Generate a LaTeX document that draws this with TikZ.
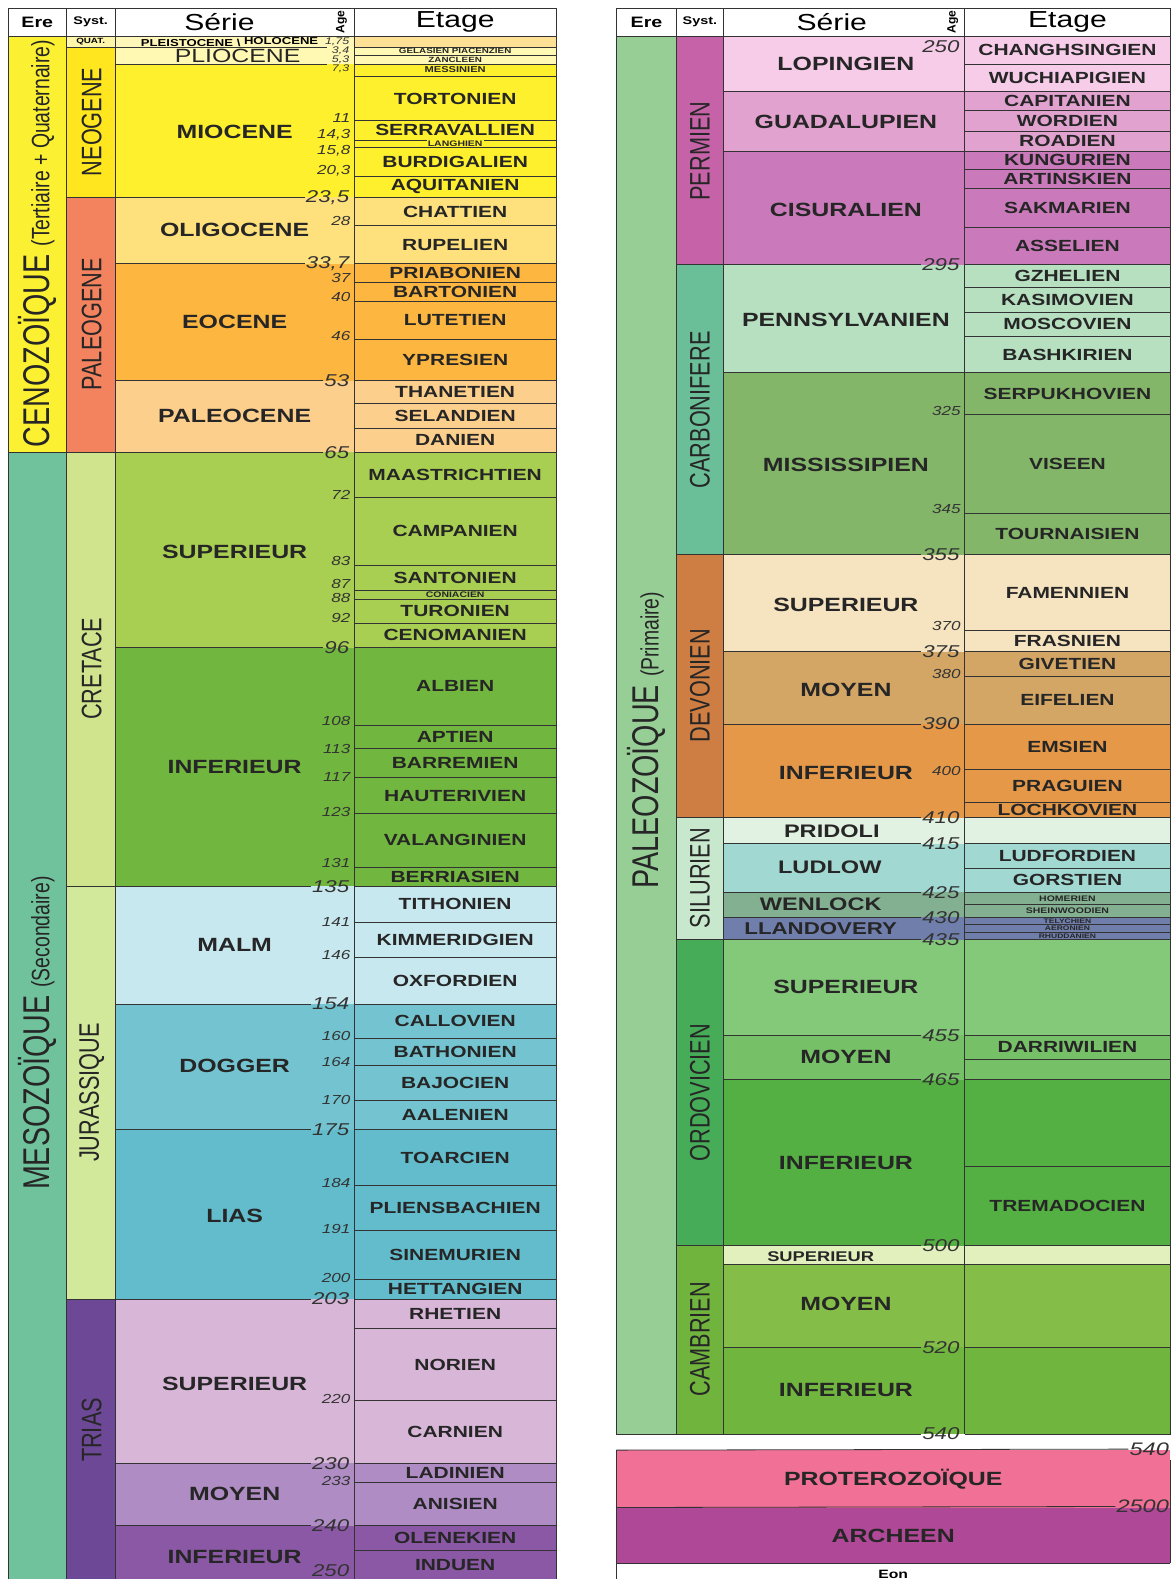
\documentclass[tikz,border=0pt]{standalone}
\usepackage{fontspec}
\setmainfont{Liberation Sans}
\newfontfamily\widesf{Liberation Sans}[FakeStretch=1.3]
\newfontfamily\tallsf{Liberation Sans}[FakeStretch=0.77]
% Ere / systemes
\definecolor{cenoz}{RGB}{252,240,50}
\definecolor{mesoz}{RGB}{112,194,156}
\definecolor{paleoz}{RGB}{150,206,150}
\definecolor{quatsys}{RGB}{255,246,170}
\definecolor{neog}{RGB}{255,230,30}
\definecolor{paleog}{RGB}{243,130,95}
\definecolor{cret}{RGB}{207,228,140}
\definecolor{jura}{RGB}{210,232,155}
\definecolor{trias}{RGB}{108,72,150}
\definecolor{perm}{RGB}{198,98,168}
\definecolor{carb}{RGB}{106,190,152}
\definecolor{devo}{RGB}{206,126,66}
\definecolor{silu}{RGB}{200,232,205}
\definecolor{ordo}{RGB}{70,172,88}
\definecolor{camb}{RGB}{112,180,62}
% Series
\definecolor{holo}{RGB}{255,247,185}
\definecolor{quatet}{RGB}{255,225,150}
\definecolor{plio}{RGB}{255,249,180}
\definecolor{mio}{RGB}{255,240,45}
\definecolor{oligo}{RGB}{254,225,125}
\definecolor{eoc}{RGB}{253,183,65}
\definecolor{paleoc}{RGB}{253,207,140}
\definecolor{crsup}{RGB}{168,206,82}
\definecolor{crinf}{RGB}{113,182,62}
\definecolor{malm}{RGB}{200,232,240}
\definecolor{dogg}{RGB}{115,196,208}
\definecolor{lias}{RGB}{98,188,204}
\definecolor{trsup}{RGB}{216,182,216}
\definecolor{trmoy}{RGB}{175,140,196}
\definecolor{trinf}{RGB}{138,88,164}
\definecolor{lop}{RGB}{246,204,232}
\definecolor{guad}{RGB}{226,162,208}
\definecolor{cisu}{RGB}{202,122,186}
\definecolor{penn}{RGB}{182,224,192}
\definecolor{miss}{RGB}{132,182,106}
\definecolor{dvsup}{RGB}{246,227,192}
\definecolor{dvmoy}{RGB}{211,166,102}
\definecolor{dvinf}{RGB}{229,152,72}
\definecolor{prid}{RGB}{226,242,226}
\definecolor{ludl}{RGB}{162,216,210}
\definecolor{wenl}{RGB}{132,176,146}
\definecolor{llan}{RGB}{112,126,172}
\definecolor{orsup}{RGB}{132,200,122}
\definecolor{ormoy}{RGB}{118,192,104}
\definecolor{orinf}{RGB}{84,176,66}
\definecolor{cbsup}{RGB}{226,240,190}
\definecolor{cbmoy}{RGB}{132,190,72}
\definecolor{cbinf}{RGB}{112,182,62}
\definecolor{proter}{RGB}{240,112,150}
\definecolor{arch}{RGB}{176,72,152}

\tikzset{
  rule/.style={draw=black!80, line width=0.8pt},
  head/.style={font=\widesf\fontsize{23}{23}\selectfont},
  etage/.style={font=\widesf\bfseries\fontsize{16}{16}\selectfont, text=black!85, inner sep=0pt},
  etagetiny/.style={font=\widesf\bfseries\fontsize{7.5}{7.5}\selectfont, text=black!85, inner sep=1pt},
  serie/.style={font=\widesf\bfseries\fontsize{19}{19}\selectfont, text=black!85},
  syst/.style={rotate=90, font=\tallsf\fontsize{28}{28}\selectfont, text=black!85},
  ere/.style={rotate=90, text=black!85, inner sep=0pt},
  agebig/.style={font=\widesf\itshape\fontsize{17}{17}\selectfont, anchor=east, inner sep=1pt, text=black!80},
  agesmall/.style={font=\widesf\itshape\fontsize{13}{13}\selectfont, anchor=east, inner sep=0pt, text=black!80},
  agetiny/.style={font=\widesf\itshape\fontsize{9.5}{9.5}\selectfont, anchor=east, inner sep=0pt, text=black!80},
}

\begin{document}
\begin{tikzpicture}[x=1pt,y=-1pt]
\useasboundingbox (0,0) rectangle (1164,1568);
\fill[white] (0,0) rectangle (1164,1568);

% ================= Left table =================
% Eres
\fill[cenoz] (8,36) rectangle (66,449);
\fill[mesoz] (8,449) rectangle (66,1568);
% Systemes
\foreach \ya/\yb/\col in {36/47/quatsys,47/196/neog,196/449/paleog,449/880/cret,880/1290/jura,1290/1568/trias}
  \fill[\col] (66,\ya) rectangle (115,\yb);
% Series and etages
\foreach \ya/\yb/\col in {36/47/holo,47/64/plio,64/196/mio,196/262/oligo,262/378/eoc,378/449/paleoc,
    449/643/crsup,643/880/crinf,880/997/malm,997/1122/dogg,1122/1290/lias,1290/1453/trsup,1453/1515/trmoy,1515/1568/trinf}
  \fill[\col] (115,\ya) rectangle (553,\yb);
\fill[quatet] (352,36) rectangle (553,47);

% Etage boundaries
\foreach \y in {47,55,64,76,120,139,146,175,196,224,262,280,299,337,378,401,425,449,494,561,586,595,619,643,
    720,743,772,808,861,880,916,951,997,1031,1058,1093,1122,1177,1222,1270,1290,1319,1391,1453,1472,1515,1540}
  \draw[rule] (352,\y) -- (553,\y);

% Series boundaries with ages
\foreach \x/\y/\age [count=\i] in {66/196/{23,5},115/262/{33,7},115/378/53,8/449/65,115/643/96,66/880/135,
    115/997/154,115/1122/175,66/1290/203,115/1453/230,115/1515/240}
{
  \node[agebig] (L\i) at (348,\y) {\age};
  \draw[rule] (\x,\y) -- (L\i.west);
}
\node[agebig] at (348,1560) {250};
\draw[rule] (66,47) -- (325,47);
\draw[rule] (115,64) -- (325,64);
\foreach \y/\age in {42/{1,75},50/{3,4},59/{5,3},68/{7,3}}
  \node[agetiny] at (347,\y) {\age};
\foreach \y/\age in {117/11,134/{14,3},150/{15,8},170/{20,3},219/28,276/37,295/40,334/46,491/72,557/83,580/87,
    594/88,614/92,716/108,744/113,772/117,806/123,857/131,916/141,948/146,1029/160,1055/164,1092/170,
    1175/184,1220/191,1269/200,1389/220,1471/233}
  \node[agesmall] at (348,\y) {\age};

% Frame
\draw[rule] (8,8) rectangle (553,1568);
\foreach \x in {66,115,352} \draw[rule] (\x,8) -- (\x,1568);
\draw[rule] (8,36) -- (553,36);

% Header
\node[font=\widesf\bfseries\fontsize{15}{15}\selectfont] at (37,22) {Ere};
\node[font=\widesf\bfseries\fontsize{11}{11}\selectfont] at (90,22) {Syst.};
\node[head] at (218,22) {Série};
\node[rotate=90, font=\bfseries\fontsize{12}{12}\selectfont] at (339,22) {Age};
\node[head] at (452,22) {Etage};

% Eres and systemes
\node[ere] at (37,242) {\tallsf\fontsize{37}{37}\selectfont CENOZOÏQUE {\fontsize{25}{25}\selectfont (Tertiaire + Quaternaire)}};
\node[ere] at (37,1026) {\tallsf\fontsize{37}{37}\selectfont MESOZOÏQUE {\fontsize{25}{25}\selectfont (Secondaire)}};
\node[font=\widesf\bfseries\fontsize{7.5}{7.5}\selectfont, inner sep=0pt] at (90,41.5) {QUAT.};
\foreach \y/\name in {121/NEOGENE,322/PALEOGENE,664/CRETACE,1085/JURASSIQUE,1420/TRIAS}
  \node[syst] at (91,\y) {\name};

% Series
\node[font=\widesf\bfseries\fontsize{10}{10}\selectfont, inner sep=0pt] at (228,42) {PLEISTOCENE \textbackslash\ \raisebox{2pt}{HOLOCENE}};
\node[serie, font=\widesf\fontsize{19}{19}\selectfont] at (236,56) {PLIOCENE};
\foreach \y/\name in {131/MIOCENE,228/OLIGOCENE,320/EOCENE,413/PALEOCENE,548/SUPERIEUR,762/INFERIEUR,938/MALM,
    1058/DOGGER,1207/LIAS,1374/SUPERIEUR,1483/MOYEN,1546/INFERIEUR}
  \node[serie] at (233,\y) {\name};

% Etages
\node[etagetiny, fill=plio] at (452,51) {GELASIEN PIACENZIEN};
\node[etagetiny, fill=plio] at (452,59.5) {ZANCLEEN};
\node[etagetiny, fill=mio, font=\widesf\bfseries\fontsize{8.5}{8.5}\selectfont] at (452,69) {MESSINIEN};
\node[etagetiny, fill=mio, font=\widesf\bfseries\fontsize{8}{8}\selectfont] at (452,142.5) {LANGHIEN};
\node[etagetiny, fill=crsup, font=\widesf\bfseries\fontsize{8}{8}\selectfont] at (452,590.5) {CONIACIEN};
\foreach \ya/\yb/\name in {76/120/TORTONIEN,120/139/SERRAVALLIEN,146/175/BURDIGALIEN,175/196/AQUITANIEN,
    196/224/CHATTIEN,224/262/RUPELIEN,262/280/PRIABONIEN,280/299/BARTONIEN,299/337/LUTETIEN,337/378/YPRESIEN,
    378/401/THANETIEN,401/425/SELANDIEN,425/449/DANIEN,449/494/MAASTRICHTIEN,494/561/CAMPANIEN,561/586/SANTONIEN,
    595/619/TURONIEN,619/643/CENOMANIEN,643/720/ALBIEN,720/743/APTIEN,743/772/BARREMIEN,772/808/HAUTERIVIEN,
    808/861/VALANGINIEN,861/880/BERRIASIEN,880/916/TITHONIEN,916/951/KIMMERIDGIEN,951/997/OXFORDIEN,
    997/1031/CALLOVIEN,1031/1058/BATHONIEN,1058/1093/BAJOCIEN,1093/1122/AALENIEN,1122/1177/TOARCIEN,
    1177/1222/PLIENSBACHIEN,1222/1270/SINEMURIEN,1270/1290/HETTANGIEN,1290/1319/RHETIEN,1319/1391/NORIEN,
    1391/1453/CARNIEN,1453/1472/LADINIEN,1472/1515/ANISIEN,1515/1540/OLENEKIEN,1540/1568/INDUEN}
  \node[etage] at (452,{(\ya+\yb)/2}) {\name};

% ================= Right table =================
\fill[paleoz] (612,36) rectangle (672,1424);
\foreach \ya/\yb/\col in {36/263/perm,263/551/carb,551/812/devo,812/933/silu,933/1237/ordo,1237/1424/camb}
  \fill[\col] (672,\ya) rectangle (718,\yb);
\foreach \ya/\yb/\col in {36/91/lop,91/150/guad,150/263/cisu,263/370/penn,370/551/miss,551/647/dvsup,647/719/dvmoy,
    719/812/dvinf,812/838/prid,838/886/ludl,886/911/wenl,911/933/llan,933/1028/orsup,1028/1072/ormoy,
    1072/1237/orinf,1237/1256/cbsup,1256/1338/cbmoy,1338/1424/cbinf}
  \fill[\col] (718,\ya) rectangle (1162,\yb);

% Etage boundaries
\foreach \y in {64,91,110,130,150,168,187,226,263,285,310,334,370,412,510,551,626,647,672,719,764,797,812,838,
    862,886,898,911,918,926,933,1028,1052,1072,1158,1237,1256,1338}
  \draw[rule] (958,\y) -- (1162,\y);
\foreach \y in {91,150,370,1256}
  \draw[rule] (718,\y) -- (958,\y);

% Series boundaries with ages
\foreach \x/\y/\age [count=\i] in {672/263/295,672/551/355,718/647/375,718/719/390,672/812/410,718/838/415,
    718/886/425,718/911/430,672/933/435,718/1028/455,718/1072/465,672/1237/500,718/1338/520,612/1424/540}
{
  \node[agebig] (R\i) at (954,\y) {\age};
  \draw[rule] (\x,\y) -- (R\i.west);
}
\node[agebig] at (954,46) {250};
\foreach \y/\age in {408/325,505/345,622/370,669/380,766/400}
  \node[agesmall] at (954,\y) {\age};

% Frame
\draw[rule] (958,1424) -- (1162,1424) -- (1162,8) -- (612,8) -- (612,1424);
\foreach \x in {672,718,958} \draw[rule] (\x,8) -- (\x,1424);
\draw[rule] (612,36) -- (1162,36);

% Header
\node[font=\widesf\bfseries\fontsize{15}{15}\selectfont] at (642,22) {Ere};
\node[font=\widesf\bfseries\fontsize{11}{11}\selectfont] at (695,22) {Syst.};
\node[head] at (826,22) {Série};
\node[rotate=90, font=\bfseries\fontsize{12}{12}\selectfont] at (946,22) {Age};
\node[head] at (1060,22) {Etage};

% Ere and systemes
\node[ere] at (642,735) {\tallsf\fontsize{37}{37}\selectfont PALEOZOÏQUE {\fontsize{25}{25}\selectfont (Primaire)}};
\foreach \y/\name in {150/PERMIEN,407/CARBONIFERE,681/DEVONIEN,872/SILURIEN,1085/ORDOVICIEN,1330/CAMBRIEN}
  \node[syst] at (695,\y) {\name};

% Series
\foreach \y/\name in {63/LOPINGIEN,121/GUADALUPIEN,208/CISURALIEN,318/PENNSYLVANIEN,462/MISSISSIPIEN,601/SUPERIEUR,
    685/MOYEN,768/INFERIEUR,980/SUPERIEUR,1050/MOYEN,1155/INFERIEUR,1295/MOYEN,1380/INFERIEUR}
  \node[serie] at (840,\y) {\name};
\node[serie, font=\widesf\bfseries\fontsize{18}{18}\selectfont] at (826,825) {PRIDOLI};
\node[serie, font=\widesf\bfseries\fontsize{18}{18}\selectfont] at (824,861) {LUDLOW};
\node[serie, font=\widesf\bfseries\fontsize{18}{18}\selectfont] at (815,898) {WENLOCK};
\node[serie, font=\widesf\bfseries\fontsize{17}{17}\selectfont] at (815,922) {LLANDOVERY};
\node[serie, font=\widesf\bfseries\fontsize{14}{14}\selectfont, inner sep=0pt] at (815,1248) {SUPERIEUR};

% Etages
\foreach \ya/\yb/\name in {36/64/CHANGHSINGIEN,64/91/WUCHIAPIGIEN,91/110/CAPITANIEN,110/130/WORDIEN,130/150/ROADIEN,
    150/168/KUNGURIEN,168/187/ARTINSKIEN,187/226/SAKMARIEN,226/263/ASSELIEN,263/285/GZHELIEN,285/310/KASIMOVIEN,
    310/334/MOSCOVIEN,334/370/BASHKIRIEN,370/412/SERPUKHOVIEN,412/510/VISEEN,510/551/TOURNAISIEN,551/626/FAMENNIEN,
    626/647/FRASNIEN,647/672/GIVETIEN,672/719/EIFELIEN,719/764/EMSIEN,764/797/PRAGUIEN,797/812/LOCHKOVIEN,
    838/862/LUDFORDIEN,862/886/GORSTIEN,1028/1052/DARRIWILIEN,1158/1237/TREMADOCIEN}
  \node[etage] at (1060,{(\ya+\yb)/2}) {\name};
\node[etagetiny, font=\widesf\bfseries\fontsize{8}{8}\selectfont] at (1060,892) {HOMERIEN};
\node[etagetiny, font=\widesf\bfseries\fontsize{8}{8}\selectfont] at (1060,904.5) {SHEINWOODIEN};
\foreach \y/\name in {915/TELYCHIEN,922/AERONIEN,929.5/RHUDDANIEN}
  \node[etagetiny, fill=llan, inner sep=0.3pt, font=\widesf\bfseries\fontsize{6.5}{6.5}\selectfont] at (1060,\y) {\name};

% ================= Eons =================
\fill[proter] (612,1440) rectangle (1162,1497);
\fill[arch] (612,1497) rectangle (1162,1552);
\node[agebig, font=\widesf\itshape\fontsize{18}{18}\selectfont] (E1) at (1162,1439) {540};
\node[agebig, font=\widesf\itshape\fontsize{18}{18}\selectfont] (E2) at (1162,1496) {2500};
\draw[rule] (612,1440) -- (E1.west);
\draw[rule] (612,1497) -- (E2.west);
\draw[rule] (612,1552) -- (1162,1552);
\draw[rule] (612,1440) -- (612,1568);
\draw[rule] (1162,1450) -- (1162,1552);
\node[serie] at (887,1469) {PROTEROZOÏQUE};
\node[serie] at (887,1525) {ARCHEEN};
\node[font=\widesf\bfseries\fontsize{12}{12}\selectfont] at (887,1563) {Eon};
\end{tikzpicture}
\end{document}
